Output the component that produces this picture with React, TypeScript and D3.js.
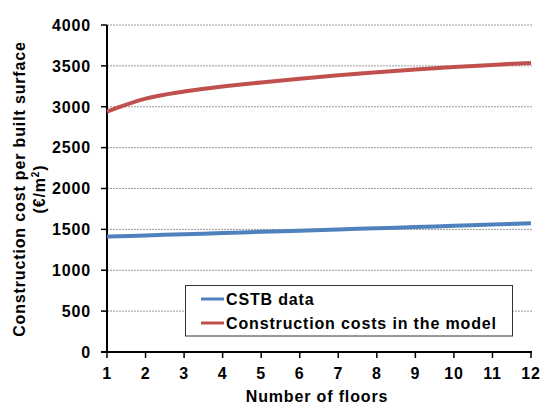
import React from "react";
import * as d3 from "d3";

const floors = [1, 2, 3, 4, 5, 6, 7, 8, 9, 10, 11, 12];
const cstbData = [1412, 1426, 1441, 1455, 1470, 1484, 1499, 1514, 1529, 1544, 1559, 1575];
const modelCosts = [2941, 3100, 3186, 3248, 3298, 3342, 3384, 3421, 3456, 3486, 3512, 3535];
const yTicks = [0, 500, 1000, 1500, 2000, 2500, 3000, 3500, 4000];
const seriesNames = ["CSTB data", "Construction costs in the model"];
const seriesColors = ["#4F81BD", "#C0504D"];

const W = 544;
const H = 405;
const M = { left: 107, right: 532, top: 25, bottom: 352 };
const FONT = "'Liberation Sans', Arial, sans-serif";
const LS = 0.85;

export default function App() {
  const x = d3.scaleLinear().domain([1, 12]).range([M.left, 531]);
  const y = d3.scaleLinear().domain([0, 4000]).range([M.bottom, M.top]);
  const line = d3
    .line<number>()
    .x((_, i) => x(floors[i]))
    .y((d) => y(d))
    .curve(d3.curveCatmullRom.alpha(0.5));
  const series = [cstbData, modelCosts];

  return (
    <svg
      width={W}
      height={H}
      style={{ position: "absolute", left: 0, top: 0, background: "#fff" }}
      fontFamily={FONT}
      fontWeight="bold"
      letterSpacing={LS}
    >
      {/* gridlines */}
      {yTicks.slice(1).map((t) => (
        <line
          key={"g" + t}
          x1={M.left}
          x2={M.right}
          y1={y(t)}
          y2={y(t)}
          stroke="#999"
          strokeWidth={1}
          strokeDasharray="2,1"
        />
      ))}
      {/* y axis */}
      <line x1={M.left} x2={M.left} y1={M.top} y2={M.bottom} stroke="#000" strokeWidth={2} />
      {yTicks.map((t) => (
        <g key={"y" + t}>
          <line x1={M.left - 6} x2={M.left} y1={y(t)} y2={y(t)} stroke="#000" strokeWidth={1.5} />
          <text x={91} y={y(t)} dy="0.36em" textAnchor="end" fontSize={16} fill="#000">
            {t}
          </text>
        </g>
      ))}
      {/* x axis */}
      <line x1={M.left - 6} x2={M.right} y1={M.bottom} y2={M.bottom} stroke="#000" strokeWidth={2} />
      {floors.map((f) => (
        <g key={"x" + f}>
          <line x1={x(f)} x2={x(f)} y1={M.bottom} y2={M.bottom + 6} stroke="#000" strokeWidth={1.5} />
          <text x={x(f)} y={379} textAnchor="middle" fontSize={16} fill="#000">
            {f}
          </text>
        </g>
      ))}
      <text x={(M.left + 531) / 2 - 2} y={402} textAnchor="middle" fontSize={16} fill="#000">
        Number of floors
      </text>
      <text transform="translate(25,189) rotate(-90)" textAnchor="middle" fontSize={16} fill="#000">
        Construction cost per built surface
      </text>
      <text transform="translate(45,189) rotate(-90)" textAnchor="middle" fontSize={16} fill="#000">
        (€/m<tspan dy="-6" fontSize={10}>2</tspan>
        <tspan dy="6">)</tspan>
      </text>
      {/* series */}
      {series.map((s, i) => (
        <path key={"s" + i} d={line(s) || ""} fill="none" stroke={seriesColors[i]} strokeWidth={4} />
      ))}
      {/* legend */}
      <rect x={185.5} y={285.5} width={327} height={50.5} fill="#fff" stroke="#333" strokeWidth={1} />
      {seriesNames.map((n, i) => (
        <g key={"l" + i}>
          <line
            x1={201}
            x2={224}
            y1={299 + i * 24}
            y2={299 + i * 24}
            stroke={seriesColors[i]}
            strokeWidth={3}
          />
          <text x={226} y={299 + i * 24} dy="0.36em" fontSize={16} fill="#000">
            {n}
          </text>
        </g>
      ))}
    </svg>
  );
}
